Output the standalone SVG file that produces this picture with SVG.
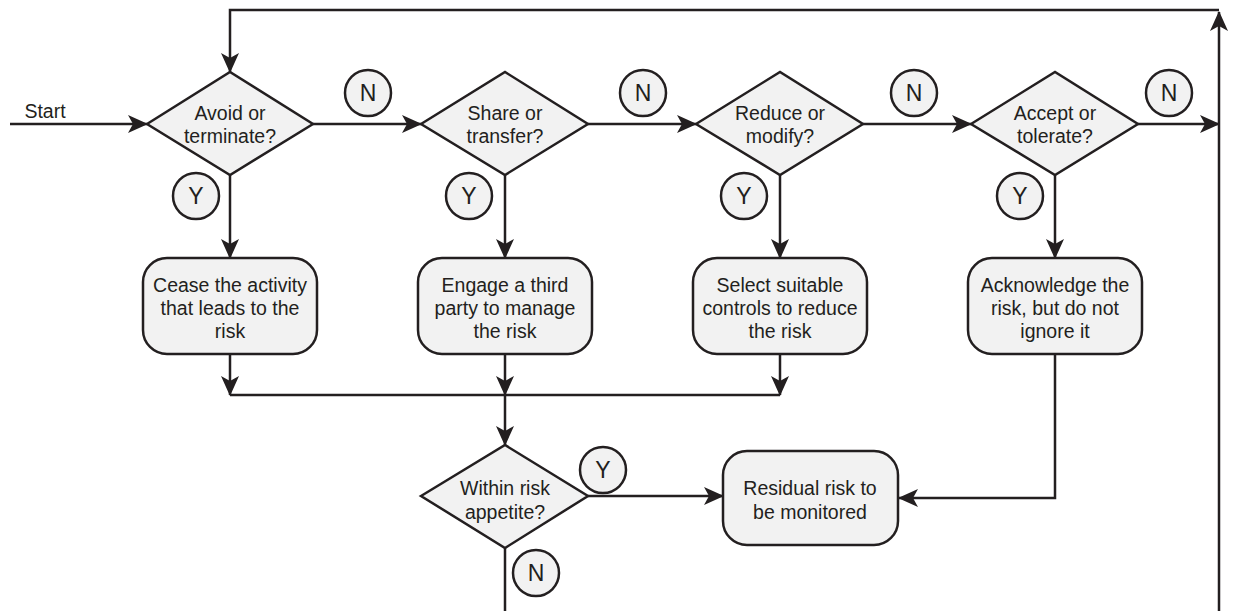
<svg xmlns="http://www.w3.org/2000/svg" width="1233" height="611" viewBox="0 0 1233 611">
<style>
.shape{fill:#f2f2f2;stroke:#231f20;stroke-width:2.5}
.line{fill:none;stroke:#231f20;stroke-width:2.5}
text{font-family:"Liberation Sans",Arial,sans-serif;font-size:19.5px;fill:#231f20;text-anchor:middle}
.lbl{font-size:23px}
</style>
<defs>
<marker id="ah" markerUnits="userSpaceOnUse" markerWidth="20" markerHeight="18" refX="19" refY="9" orient="auto" viewBox="0 0 20 18">
<path d="M0,0 L20,9 L0,18 L5,9 z" fill="#231f20"/>
</marker>
</defs>
<rect width="1233" height="611" fill="#ffffff"/>
<g id="connectors">
<path class="line" d="M10,124 H147" marker-end="url(#ah)"/>
<path class="line" d="M313,124 H421" marker-end="url(#ah)"/>
<path class="line" d="M588,124 H696" marker-end="url(#ah)"/>
<path class="line" d="M863,124 H971" marker-end="url(#ah)"/>
<path class="line" d="M1138,124 H1219" marker-end="url(#ah)"/>
<path class="line" d="M1219,611 V12" marker-end="url(#ah)"/>
<path class="line" d="M1219,10 H230 V72" marker-end="url(#ah)"/>
<path class="line" d="M230,175 V258" marker-end="url(#ah)"/>
<path class="line" d="M505,175 V258" marker-end="url(#ah)"/>
<path class="line" d="M780,175 V258" marker-end="url(#ah)"/>
<path class="line" d="M1055,175 V258" marker-end="url(#ah)"/>
<path class="line" d="M230,354 V395" marker-end="url(#ah)"/>
<path class="line" d="M505,354 V395" marker-end="url(#ah)"/>
<path class="line" d="M780,354 V395" marker-end="url(#ah)"/>
<path class="line" d="M230,395 H780"/>
<path class="line" d="M505,395 V445" marker-end="url(#ah)"/>
<path class="line" d="M588,496 H723" marker-end="url(#ah)"/>
<path class="line" d="M1055,354 V498 H899" marker-end="url(#ah)"/>
<path class="line" d="M505,548 V611"/>
<text x="45" y="118">Start</text>
</g>
<g id="d1"><polygon class="shape" points="147,124 230,72 313,124 230,175"/><text x="230" y="120">Avoid or</text><text x="230" y="143">terminate?</text></g>
<g id="d2"><polygon class="shape" points="421,124 505,72 588,124 505,175"/><text x="505" y="120">Share or</text><text x="505" y="143">transfer?</text></g>
<g id="d3"><polygon class="shape" points="696,124 780,72 863,124 780,175"/><text x="780" y="120">Reduce or</text><text x="780" y="143">modify?</text></g>
<g id="d4"><polygon class="shape" points="971,124 1055,72 1138,124 1055,175"/><text x="1055" y="120">Accept or</text><text x="1055" y="143">tolerate?</text></g>
<g id="d5"><polygon class="shape" points="421,496 505,445 588,496 505,548"/><text x="505" y="495">Within risk</text><text x="505" y="519">appetite?</text></g>
<g id="b1"><rect class="shape" x="143" y="258" width="174" height="96" rx="24"/><text x="230" y="292">Cease the activity</text><text x="230" y="315">that leads to the</text><text x="230" y="338">risk</text></g>
<g id="b2"><rect class="shape" x="418" y="258" width="174" height="96" rx="24"/><text x="505" y="292">Engage a third</text><text x="505" y="315">party to manage</text><text x="505" y="338">the risk</text></g>
<g id="b3"><rect class="shape" x="693" y="258" width="174" height="96" rx="24"/><text x="780" y="292">Select suitable</text><text x="780" y="315">controls to reduce</text><text x="780" y="338">the risk</text></g>
<g id="b4"><rect class="shape" x="968" y="258" width="174" height="96" rx="24"/><text x="1055" y="292">Acknowledge the</text><text x="1055" y="315">risk, but do not</text><text x="1055" y="338">ignore it</text></g>
<g id="b5"><rect class="shape" x="723" y="451" width="175" height="94" rx="24"/><text x="810" y="495">Residual risk to</text><text x="810" y="519">be monitored</text></g>
<g id="labels">
<g id="n1"><circle class="shape" cx="368" cy="93" r="23"/><text class="lbl" x="368" y="101">N</text></g>
<g id="n2"><circle class="shape" cx="643" cy="93" r="23"/><text class="lbl" x="643" y="101">N</text></g>
<g id="n3"><circle class="shape" cx="914" cy="93" r="23"/><text class="lbl" x="914" y="101">N</text></g>
<g id="n4"><circle class="shape" cx="1169" cy="93" r="23"/><text class="lbl" x="1169" y="101">N</text></g>
<g id="y1"><circle class="shape" cx="196" cy="196" r="23"/><text class="lbl" x="196" y="204">Y</text></g>
<g id="y2"><circle class="shape" cx="469" cy="196" r="23"/><text class="lbl" x="469" y="204">Y</text></g>
<g id="y3"><circle class="shape" cx="744" cy="196" r="23"/><text class="lbl" x="744" y="204">Y</text></g>
<g id="y4"><circle class="shape" cx="1020" cy="196" r="23"/><text class="lbl" x="1020" y="204">Y</text></g>
<g id="y5"><circle class="shape" cx="603" cy="470" r="23"/><text class="lbl" x="603" y="478">Y</text></g>
<g id="n5"><circle class="shape" cx="536" cy="573" r="23"/><text class="lbl" x="536" y="581">N</text></g>
</g>
</svg>
